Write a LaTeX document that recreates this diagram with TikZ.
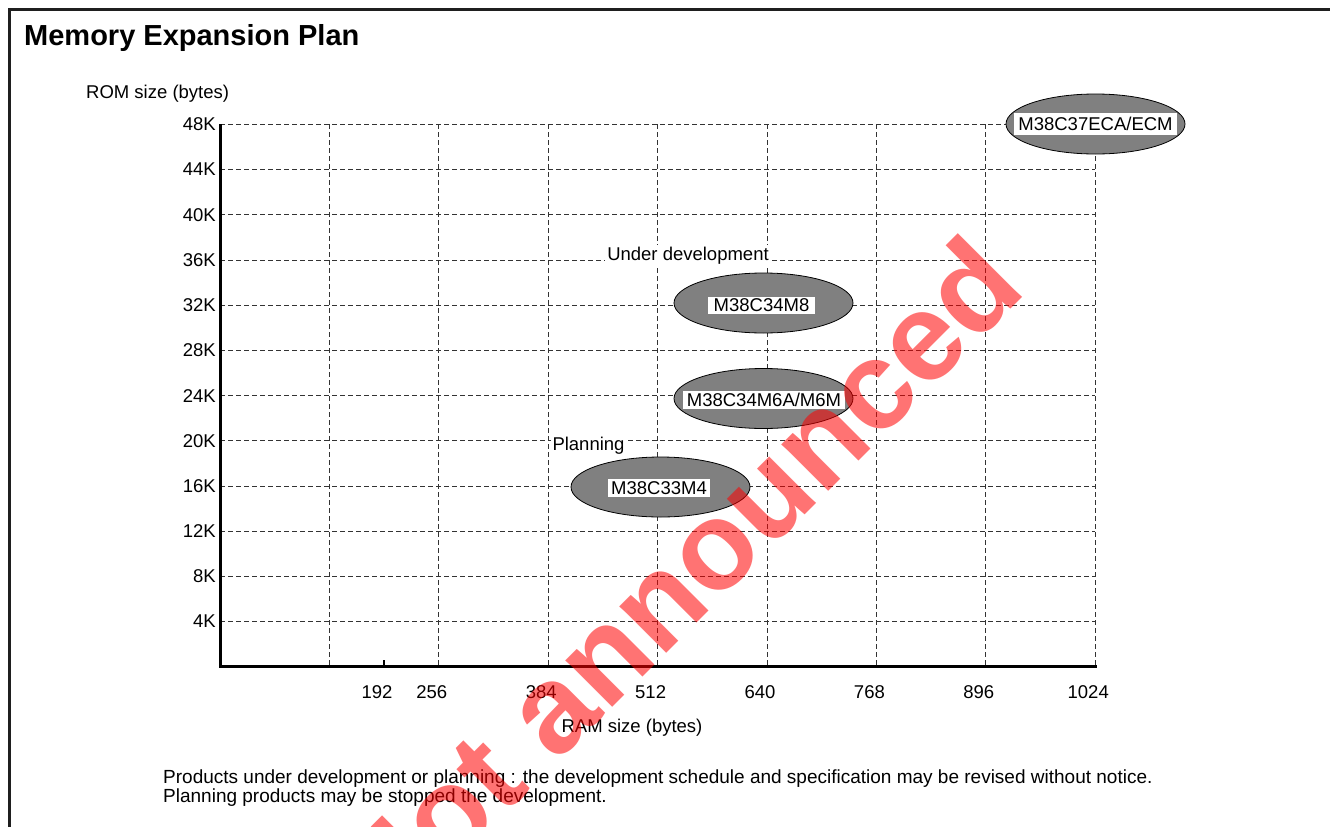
\documentclass[tikz,border=0pt]{standalone}
\usepackage{fontspec}
\setmainfont{Liberation Sans}
\usepackage{tikz}
\usetikzlibrary{calc,positioning,shapes.geometric}
\tikzset{gridline/.style={black!80,line width=0.9bp,dash pattern=on 5bp off 3bp},axisline/.style={black,line width=3bp}}

\begin{document}
\begin{tikzpicture}[x=1bp,y=-1bp,inner sep=0pt]

\tikzset{lbl/.style={font=\fontsize{18.5bp}{22bp}\selectfont},
chip/.style={shape=ellipse,fill=black!50,draw=black,line width=0.8bp,minimum width=179bp,minimum height=60bp},
chiptext/.style={lbl,fill=white,inner xsep=4bp,inner ysep=2bp},
stage/.style={lbl,fill=white,inner sep=2bp},
wmark/.style={font=\fontsize{125bp}{130bp}\selectfont\bfseries,text=red,text opacity=0.55}}

\useasboundingbox (0,0) rectangle (1330,826);
\clip (0,0) rectangle (1330,826);

% Frame
\draw[line width=3bp,black!88] (9.5,840) -- (9.5,9.5) -- (1340,9.5);

% Nodes
\node (origin) at (220,666.8) {};
\coordinate (ytop) at (220,124.4);
\coordinate (xend) at (1096.5,666.8);

% Grid
\foreach \k in {1,...,12} \draw[gridline] (220,{666.8-\k*45.2}) -- (1095,{666.8-\k*45.2});
\foreach \i in {1,...,8} \draw[gridline] ({220+\i*109.4},124.4) -- ({220+\i*109.4},666.8);

% Axis
\draw[axisline] (ytop) -- (origin.center) -- (xend);
\draw[line width=2bp] ({220+192*0.8547},666.8) -- +(0,-7);
\foreach \kb [count=\k] in {4,8,...,48} \node[lbl,anchor=east] (rom\kb) at (216,{666.8-\k*45.2}) {\kb K};
\foreach \r in {192,256,384,512,640,768,896,1024} \node[lbl,anchor=base] (ram\r) at ({220+\r*0.8547-7},698) {\r};
\node[lbl,anchor=base west] (romlabel) at (86,98) {ROM size (bytes)};
\node[lbl,anchor=base] (ramlabel) at (632,732) {RAM size (bytes)};

% Title
\node[anchor=base west,font=\fontsize{29bp}{34bp}\selectfont\bfseries] (title) at (24,45) {Memory Expansion Plan};

% Products
\node[chip] (m37) at (1095.5,124) {};
\node[chiptext,inner ysep=4.5bp] (m37t) at (m37) {M38C37ECA/ECM};
\node[chip] (m34m8) at (763.5,303) {};
\node[chiptext,inner xsep=5.5bp] (m34m8t) at (761.5,305.5) {M38C34M8};
\node[chip] (m34m6) at (763.5,398.5) {};
\node[chiptext] (m34m6t) at (764,400) {M38C34M6A/M6M};
\node[chip] (m33m4) at (660.5,487) {};
\node[chiptext,inner xsep=3bp] (m33m4t) at (659,488) {M38C33M4};

% Stages
\node[stage,anchor=base] (devel) at (688,260) {Under development};
\node[stage,anchor=base] (plan) at (588.5,450.7) {Planning};

% Notes
\node[anchor=base west,font=\fontsize{19bp}{22bp}\selectfont] (note1) at (163,783) {Products under development or planning : the development schedule and specification may be revised without notice.};
\node[anchor=base west,font=\fontsize{19bp}{22bp}\selectfont] (note2) at (163,802) {Planning products may be stopped the development.};

% Watermark
\node[wmark,anchor=base west,rotate=45] (notice) at (385,935) {Not announced};

\end{tikzpicture}
\end{document}
